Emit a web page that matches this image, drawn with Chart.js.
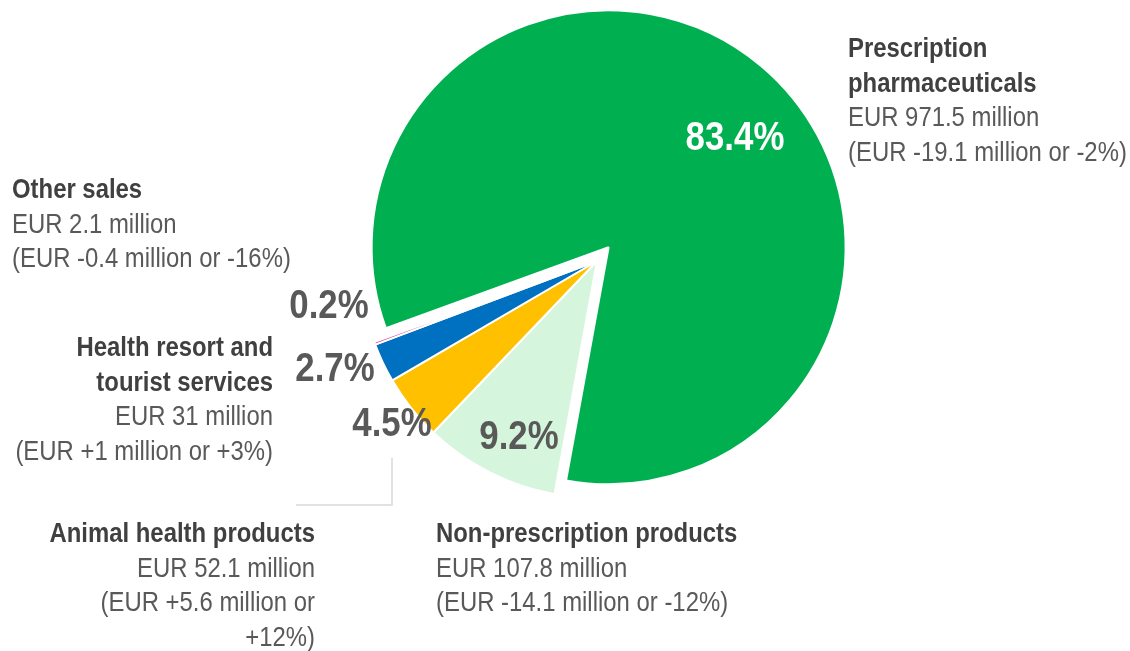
<!DOCTYPE html>
<html>
<head>
    <title>Sales structure</title>
    <script src="https://cdn.jsdelivr.net/npm/chart.js"></script>
    <style>
        html, body { margin: 0; padding: 0; background: #fff; }
        #wrap { width: 1130px; height: 651px; position: relative; }
    </style>
</head>
<body>
    <div id="wrap"><canvas id="salesChart"></canvas></div>

    <script>
        // data
        const categories = ['Prescription pharmaceuticals', 'Non-prescription products', 'Animal health products',
            'Health resort and tourist services', 'Other sales'];
        const sales = [971.5, 107.8, 52.1, 31, 2.1];
        const shares = ['83.4%', '9.2%', '4.5%', '2.7%', '0.2%'];
        const amounts = ['EUR 971.5 million', 'EUR 107.8 million', 'EUR 52.1 million', 'EUR 31 million', 'EUR 2.1 million'];
        const changes = ['(EUR -19.1 million or -2%)', '(EUR -14.1 million or -12%)', '(EUR +5.6 million or +12%)',
            '(EUR +1 million or +3%)', '(EUR -0.4 million or -16%)'];
        const colors = ['#00B050', '#D5F5DC', '#FFC000', '#0070C0', '#E0409A'];

        // Arial Narrow is not installed, so squeeze Liberation Sans instead
        const FONT = '"Liberation Sans", Arial, sans-serif';
        const NARROW = 0.885;
        const PCT_NARROW = 0.85;
        const EXPLODE = 18;

        // where each label sits, relative to the pie centre
        const pctPos = [[138, -122], [-78, 177], [-205, 164], [-262, 109], [-268, 46]];
        const boxes = [
            { x: 848, y: 50, align: 'left', w: 290 },
            { x: 436, y: 535, align: 'left', w: 340 },
            { x: 315, y: 535, align: 'right', w: 275 },
            { x: 273, y: 349, align: 'right', w: 262 },
            { x: 12, y: 191, align: 'left', w: 300 }
        ];

        function textW(ctx, t, k) {
            return ctx.measureText(t).width * k;
        }

        function narrowText(ctx, t, x, y, align, k) {
            const w = textW(ctx, t, k);
            let left = x;
            if (align === 'center') left = x - w / 2;
            else if (align === 'right') left = x - w;
            ctx.save();
            ctx.translate(left, y);
            ctx.scale(k, 1);
            ctx.textAlign = 'left';
            ctx.fillText(t, 0, 0);
            ctx.restore();
        }

        function wrap(ctx, text, maxW) {
            const words = text.split(' ');
            const lines = [];
            let cur = '';
            words.forEach(w => {
                const test = cur ? cur + ' ' + w : w;
                if (cur && textW(ctx, test, NARROW) > maxW) {
                    lines.push(cur);
                    cur = w;
                } else {
                    cur = test;
                }
            });
            if (cur) lines.push(cur);
            return lines;
        }

        // pull the big slice out of the pie along its middle angle
        const explodePlugin = {
            id: 'explode',
            afterDatasetUpdate(chart) {
                const arc = chart.getDatasetMeta(0).data[0];
                const mid = (arc.startAngle + arc.endAngle) / 2;
                arc.x += Math.cos(mid) * EXPLODE;
                arc.y += Math.sin(mid) * EXPLODE;
            }
        };

        const labelPlugin = {
            id: 'labels',
            afterDatasetsDraw(chart) {
                const ctx = chart.ctx;
                const arcs = chart.getDatasetMeta(0).data;
                const cx = arcs[1].x, cy = arcs[1].y;
                ctx.save();

                // leader for the animal health label
                ctx.strokeStyle = '#D9D9D9';
                ctx.lineWidth = 1.5;
                ctx.beginPath();
                ctx.moveTo(392, 458);
                ctx.lineTo(392, 505);
                ctx.lineTo(296, 505);
                ctx.stroke();

                ctx.textBaseline = 'middle';
                shares.forEach((s, i) => {
                    ctx.font = 'bold 41px ' + FONT;
                    ctx.fillStyle = i === 0 ? '#ffffff' : '#595959';
                    narrowText(ctx, s, cx + pctPos[i][0], cy + pctPos[i][1], 'center', PCT_NARROW);
                });

                const lh = 34.5;
                categories.forEach((c, i) => {
                    const b = boxes[i];
                    ctx.font = 'bold 27px ' + FONT;
                    const bold = wrap(ctx, c, b.w);
                    ctx.font = '27px ' + FONT;
                    const plain = [amounts[i]].concat(wrap(ctx, changes[i], b.w));
                    let y = b.y;
                    ctx.font = 'bold 27px ' + FONT;
                    ctx.fillStyle = '#404040';
                    bold.forEach(l => { narrowText(ctx, l, b.x, y, b.align, NARROW); y += lh; });
                    ctx.font = '27px ' + FONT;
                    ctx.fillStyle = '#595959';
                    plain.forEach(l => { narrowText(ctx, l, b.x, y, b.align, NARROW); y += lh; });
                });
                ctx.restore();
            }
        };

        const ctx = document.getElementById('salesChart').getContext('2d');
        new Chart(ctx, {
            type: 'pie',
            data: {
                labels: categories,
                datasets: [{
                    data: sales,
                    backgroundColor: colors,
                    borderColor: '#ffffff',
                    borderWidth: 2,
                    hoverOffset: 0
                }]
            },
            options: {
                responsive: true,
                maintainAspectRatio: false,
                animation: false,
                rotation: 250,
                radius: 237,
                layout: { padding: { left: 336, right: 272, top: 0, bottom: 129 } },
                plugins: {
                    legend: { display: false },
                    tooltip: { enabled: false }
                }
            },
            plugins: [explodePlugin, labelPlugin]
        });
    </script>
</body>
</html>
